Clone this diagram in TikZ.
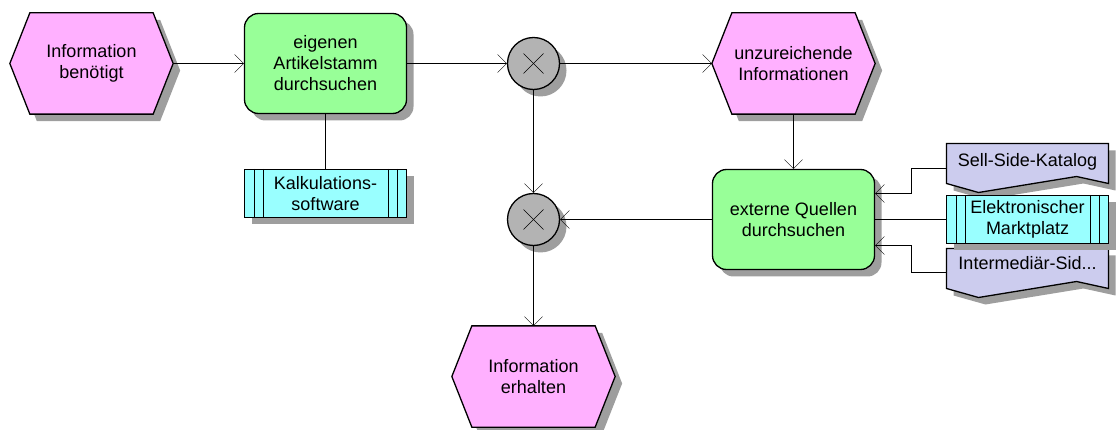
\documentclass[tikz,border=0pt]{standalone}
\usepackage{fontspec}
\setmainfont{Liberation Sans}
\usetikzlibrary{arrows.meta,shadows}
\definecolor{evtc}{RGB}{255,176,255}
\definecolor{fnc}{RGB}{152,255,152}
\definecolor{sysc}{RGB}{153,255,255}
\definecolor{docc}{RGB}{204,204,238}
\definecolor{xorc}{RGB}{179,179,179}
\definecolor{shadowc}{RGB}{158,158,158}
\pgfdeclarelayer{bg}
\pgfsetlayers{bg,main}
\begin{document}
\begin{tikzpicture}[x=1pt,y=-1pt,line width=1.3pt,
  lbl/.style={font=\fontsize{18}{21}\selectfont,align=center,inner sep=0pt},
  shade7/.style={drop shadow={shadow xshift=7pt,shadow yshift=-7pt,opacity=1,fill=shadowc}},
  fn/.style={lbl,draw,fill=fnc,rounded corners=14pt,minimum width=162pt,minimum height=100pt,shade7},
  evt/.style={lbl,minimum width=162pt,minimum height=100pt},
  sys/.style={lbl,draw,fill=sysc,minimum width=162pt,minimum height=48pt,shade7},
  xor/.style={draw,fill=xorc,circle,minimum size=52pt,inner sep=0pt,shade7},
  doc/.style={lbl,minimum width=162pt},
  outline/.style={draw=black,line width=1.3pt},
  flow/.style={-{Straight Barb[length=9pt,width=18pt]}},
]
\useasboundingbox (0,0) rectangle (1116,430);

% events, functions, operators
\node[evt] (e1) at (91.5,63.5) {Information\\benötigt};
\node[fn]  (f1) at (325.5,63.5) {eigenen\\Artikelstamm\\durchsuchen};
\node[sys] (kalk) at (325.5,193.5) {Kalkulations-\\software};
\node[xor] (x1) at (533.5,63.5) {};
\node[evt] (e2) at (793.5,63.5) {unzureichende\\Informationen};
\node[fn]  (f2) at (793.5,219.5) {externe Quellen\\durchsuchen};
\node[xor] (x2) at (533.5,219.5) {};
\node[evt] (e3) at (533.5,376.5) {Information\\erhalten};

% documents and system
\node[doc] (sell) at (1027.5,161.5) {Sell-Side-Katalog};
\node[sys] (markt) at (1027.5,219.5) {Elektronischer\\Marktplatz};
\node[doc] (inter) at (1027.5,263.5) {Intermediär-Sid...};

% hexagonal event shapes
\begin{pgfonlayer}{bg}
\foreach \n in {e1,e2,e3}{
  \fill[shadowc] ([shift={(7pt,-7pt)}]\n.west) -- ([shift={(27pt,-7pt)}]\n.north west)
    -- ([shift={(-13pt,-7pt)}]\n.north east) -- ([shift={(7pt,-7pt)}]\n.east)
    -- ([shift={(-13pt,-7pt)}]\n.south east) -- ([shift={(27pt,-7pt)}]\n.south west) -- cycle;
  \path[outline,fill=evtc] (\n.west) -- ([xshift=20pt]\n.north west)
    -- ([xshift=-20pt]\n.north east) -- (\n.east)
    -- ([xshift=-20pt]\n.south east) -- ([xshift=20pt]\n.south west) -- cycle;
}
% document shapes
\foreach \t in {143.5,248.5}{
  \fill[shadowc] (953.5,\t+7) -- (1115.5,\t+7) -- (1115.5,\t+47) -- (1083.5,\t+40)
    -- (985.5,\t+56) -- (953.5,\t+47) -- cycle;
  \path[outline,fill=docc] (946.5,\t) -- (1108.5,\t) -- (1108.5,\t+40) -- (1076.5,\t+33)
    -- (978.5,\t+49) -- (946.5,\t+40) -- cycle;
}
\end{pgfonlayer}

% lane bars of the application systems
\foreach \n in {kalk,markt}{
  \foreach \d in {10,19}{
    \draw ([xshift=\d pt]\n.north west) -- ([xshift=\d pt]\n.south west);
    \draw ([xshift=-\d pt]\n.north east) -- ([xshift=-\d pt]\n.south east);
  }
}

% XOR marks
\foreach \n in {x1,x2}{
  \draw ([shift={(-10,-10)}]\n.center) -- ([shift={(10,10)}]\n.center);
  \draw ([shift={(-10,10)}]\n.center) -- ([shift={(10,-10)}]\n.center);
}

% control flow
\draw[flow] (e1.east) -- (f1.west);
\draw[flow] (f1.east) -- (x1.west);
\draw[flow] (x1.east) -- (e2.west);
\draw[flow] (e2.south) -- (f2.north);
\draw[flow] (x1.south) -- (x2.north);
\draw[flow] (f2.west) -- (x2.east);
\draw[flow] (x2.south) -- (e3.north);
\draw (f1.south) -- (kalk.north);

% information and resource links
\draw[flow] ([yshift=-7pt]sell.west) -- ++(-35,0) |- ([yshift=26pt]f2.east);
\draw (markt.west) -- (f2.east);
\draw[flow] ([yshift=-9pt]inter.west) -- ++(-35,0) |- ([yshift=-26pt]f2.east);
\end{tikzpicture}
\end{document}
